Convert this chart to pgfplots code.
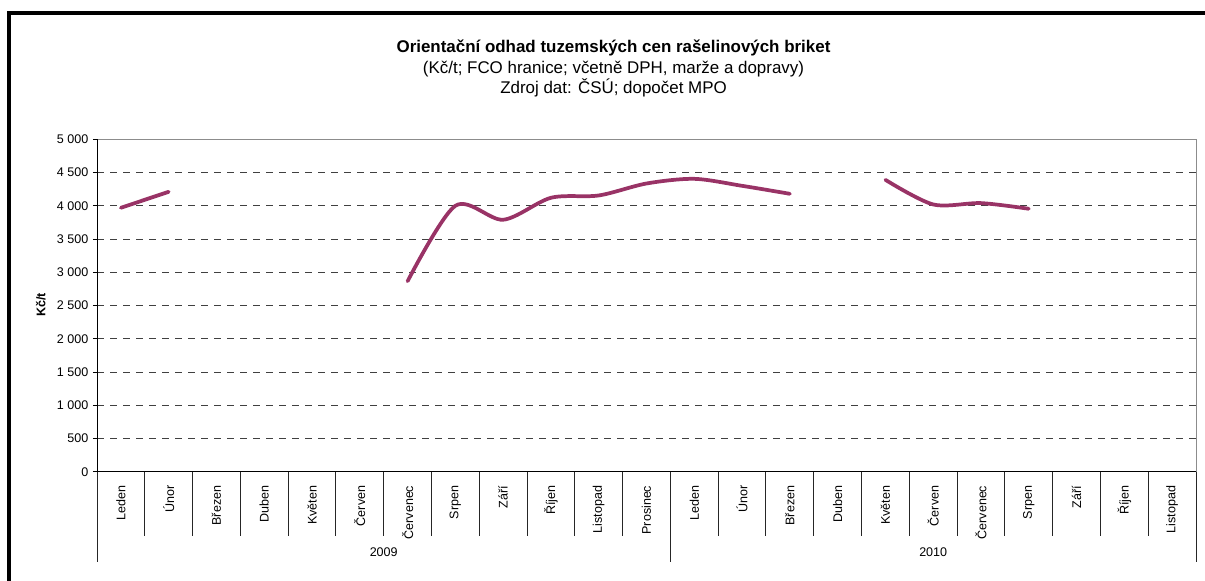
\documentclass[border=0pt]{standalone}
\usepackage{pgfplots}
\pgfplotsset{compat=1.18}
\usepackage{fontspec}
\setmainfont{Liberation Sans}
\definecolor{serie}{HTML}{993366}
\begin{document}
\begin{tikzpicture}
\begin{axis}[
  at={(72.75pt,81.98pt)}, anchor=south west,
  scale only axis, width=824.25pt, height=249.3pt,
  xmin=-0.5, xmax=22.5, ymin=0, ymax=5000,
  xtick={0,...,22},
  xticklabels={Leden,Únor,Březen,Duben,Květen,Červen,Červenec,Srpen,Září,Říjen,Listopad,Prosinec,Leden,Únor,Březen,Duben,Květen,Červen,Červenec,Srpen,Září,Říjen,Listopad},
  xticklabel style={rotate=90, anchor=east, font=\fontsize{9.4}{11}\selectfont, xshift=-4pt},
  every x tick/.append style={draw=none},
  ytick={0,500,...,5000},
  yticklabels={0,500,1 000,1 500,2 000,2 500,3 000,3 500,4 000,4 500,5 000},
  yticklabel style={font=\fontsize{9.4}{11}\selectfont},
  ytick pos=left, xtick pos=bottom, tick align=outside, major tick length=3pt,
  tick style={black, line width=0.6pt},
  ymajorgrids,
  grid style={black!75, dash pattern=on 5.25pt off 4.5pt, line width=0.6pt},
  axis line style={draw=black!45, line width=0.75pt},
  clip=false,
]
\addplot[serie, line width=2.8pt, smooth, tension=0.5, line cap=round] coordinates {(0,3970) (1,4210)};
\addplot[serie, line width=2.8pt, smooth, tension=0.5, line cap=round] coordinates {
(6,2865) (7,4000) (8,3790) (9,4120) (10,4155) (11,4335) (12,4405) (13,4300) (14,4180)};
\addplot[serie, line width=2.8pt, smooth, tension=0.5, line cap=round] coordinates {
(16,4390) (17,4020) (18,4040) (19,3955)};
\draw[black, line width=0.75pt] (rel axis cs:0,1) -- (rel axis cs:0,0) -- (rel axis cs:1,0);
\pgfplotsinvokeforeach{-0.5,0.5,...,22.5}{\draw[black!85, line width=0.75pt] (axis cs:#1,0) -- ++(0pt,-48pt);}
\pgfplotsinvokeforeach{-0.5,11.5,22.5}{\draw[black!85, line width=0.75pt] (axis cs:#1,0) -- ++(0pt,-67.5pt);}
\node[anchor=base, font=\fontsize{9.4}{11}\selectfont] at ([yshift=-63.6pt]axis cs:5.5,0) {2009};
\node[anchor=base, font=\fontsize{9.4}{11}\selectfont] at ([yshift=-63.6pt]axis cs:17,0) {2010};
\end{axis}
\begin{scope}[x=0.75pt,y=0.75pt]
\node[anchor=base, font=\bfseries\fontsize{12.7}{15}\selectfont] at (613.5,528) {Orientační odhad tuzemských cen rašelinových briket};
\node[anchor=base, font=\fontsize{12.7}{15}\selectfont] at (613.5,507) {(Kč/t; FCO hranice; včetně DPH, marže a dopravy)};
\node[anchor=base, font=\fontsize{12.7}{15}\selectfont] at (613.5,487) {Zdroj dat: ČSÚ; dopočet MPO};
\node[rotate=90, font=\bfseries\fontsize{9.4}{11}\selectfont] at (40.7,276) {Kč/t};
\draw[line width=3.2pt, line join=miter] (9,-10) -- (9,568) -- (1215,568);
\pgfresetboundingbox
\path[use as bounding box] (0,0) rectangle (1205,581);
\end{scope}
\end{tikzpicture}
\end{document}
